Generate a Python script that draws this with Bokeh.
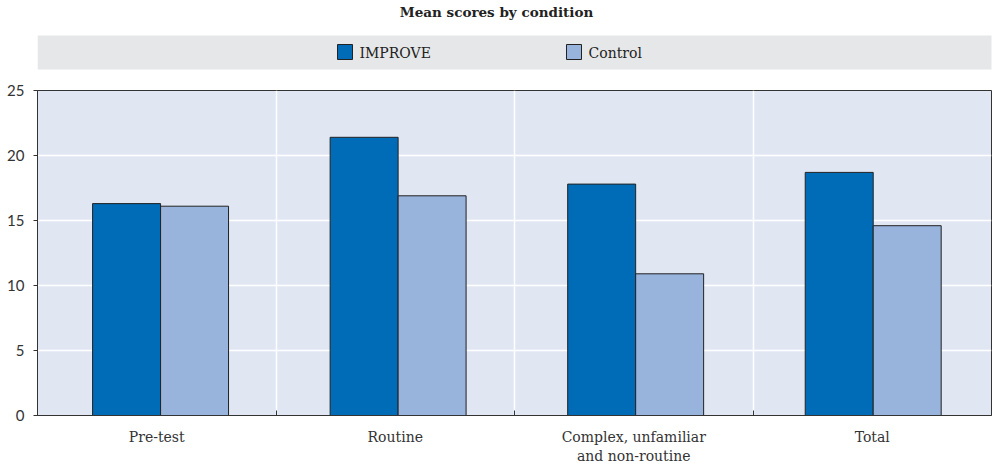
from bokeh.plotting import figure
from bokeh.layouts import column
from bokeh.models import FixedTicker, Range1d
from bokeh.core.properties import value
from bokeh.embed import file_html
from bokeh.resources import INLINE
import numpy as np

# ---- data ----
categories = ["Pre-test", "Routine", "Complex, unfamiliar\nand non-routine", "Total"]
improve = [16.3, 21.4, 17.8, 18.7]
control = [16.1, 16.9, 10.9, 14.6]
series_names = ["IMPROVE", "Control"]
colors = ["#006BB6", "#98B3DC"]
title_text = "Mean scores by condition"
y_ticks = [0, 5, 10, 15, 20, 25]

SERIF = "DejaVu Serif"
SANS = "Lato"
W = 993
BL, BR = 37, 2          # frame borders (left/right)
TOP_H = 78

# ---- header (title + legend band); data coords == page pixels ----
top = figure(width=W, height=TOP_H, x_range=Range1d(BL, W - BR), y_range=Range1d(TOP_H, 0),
             output_backend="svg", toolbar_location=None,
             min_border_left=BL, min_border_right=BR, min_border_top=0, min_border_bottom=0)
top.axis.visible = False
top.grid.visible = False
top.outline_line_color = None
top.background_fill_color = "white"
top.border_fill_color = "white"

top.text(x=[496], y=[11], text=[title_text], text_font=value(SERIF), text_font_size="13.5px",
         text_font_style="bold", text_align="center", text_baseline="middle", text_color="#222222")
top.quad(left=[BL], right=[W], top=[35], bottom=[69], fill_color="#E6E7E8", line_color=None)
sw_x = [337, 566]
for i, name in enumerate(series_names):
    top.quad(left=[sw_x[i]], right=[sw_x[i] + 15], top=[44], bottom=[59],
             fill_color=colors[i], line_color="#222222", line_width=1)
    top.text(x=[sw_x[i] + 22], y=[52], text=[name], text_font=value(SERIF), text_font_size="14px",
             text_align="left", text_baseline="middle", text_color="#222222")

# ---- main chart ----
p = figure(width=W, height=467 - TOP_H, x_range=Range1d(0, 4), y_range=Range1d(0, 25),
           output_backend="svg", toolbar_location=None,
           min_border_left=BL, min_border_right=BR, min_border_top=90 - TOP_H, min_border_bottom=52)
p.background_fill_color = "#E0E7F3"
p.border_fill_color = "white"
p.outline_line_color = "#333333"
p.outline_line_width = 1

n = len(categories)
centers = np.arange(n) * 0.996 + 0.5 + 0.016
bw = 0.285
p.vbar(x=centers - bw / 2, top=improve, width=bw, fill_color=colors[0], line_color="#222222", line_width=1)
p.vbar(x=centers + bw / 2, top=control, width=bw, fill_color=colors[1], line_color="#222222", line_width=1)

# x axis
p.xaxis.ticker = FixedTicker(ticks=list(np.arange(n) + 0.5), minor_ticks=list(range(1, n)))
p.xaxis.major_label_overrides = {float(i + 0.5): c for i, c in enumerate(categories)}
p.xaxis.major_tick_line_color = None
p.xaxis.minor_tick_in = 5
p.xaxis.minor_tick_out = 0
p.xaxis.minor_tick_line_color = "#333333"
p.xaxis.axis_line_color = "#333333"
p.xaxis.major_label_text_font = SERIF
p.xaxis.major_label_text_font_size = "14px"
p.xaxis.major_label_text_color = "#333333"
p.xaxis.major_label_standoff = 7

# y axis
p.yaxis.ticker = FixedTicker(ticks=y_ticks)
p.yaxis.minor_tick_line_color = None
p.yaxis.major_tick_in = 0
p.yaxis.major_tick_out = 4
p.yaxis.major_tick_line_color = "#333333"
p.yaxis.axis_line_color = "#333333"
p.yaxis.major_label_text_font = SANS
p.yaxis.major_label_text_font_size = "15px"
p.yaxis.major_label_text_color = "#333333"
p.yaxis.major_label_standoff = 9

# grids
p.xgrid.ticker = FixedTicker(ticks=list(range(1, n)))
p.xgrid.grid_line_color = "white"
p.xgrid.grid_line_width = 1.5
p.ygrid.grid_line_color = "white"
p.ygrid.grid_line_width = 1.5

layout = column(top, p, spacing=0)
open("out.html", "w").write(file_html(layout, INLINE))
